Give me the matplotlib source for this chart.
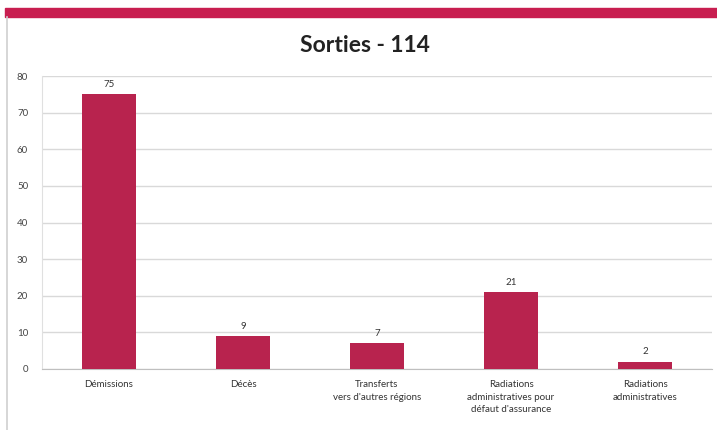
import matplotlib.pyplot as plt
from matplotlib.patches import Rectangle
from matplotlib.lines import Line2D

categories = ["Démissions", "Décès", "Transferts\nvers d'autres régions",
              "Radiations\nadministratives pour\ndéfaut d'assurance",
              "Radiations\nadministratives"]
values = [75, 9, 7, 21, 2]
yticks = [0, 10, 20, 30, 40, 50, 60, 70, 80]

bar_color = "#B8234E"
strip_color = "#C81E50"

plt.rcParams['font.family'] = ['Lato', 'DejaVu Sans']

W, H = 717, 430
fig = plt.figure(figsize=(W / 100, H / 100), dpi=100)

# red strip across the top and grey frame on the left
fig.patches.append(Rectangle((5 / W, 1 - 17 / H), 1, 9 / H, transform=fig.transFigure,
                             color=strip_color, zorder=0))
fig.lines.append(Line2D([7 / W, 7 / W], [0, 1 - 17 / H], transform=fig.transFigure,
                        color="#d0d0d0", lw=1.2))

ax = fig.add_axes([42 / W, 1 - 369 / H, 670 / W, 293 / H])
x = range(len(categories))
bars = ax.bar(x, values, width=0.4, color=bar_color, zorder=3)
for b, v in zip(bars, values):
    ax.text(b.get_x() + b.get_width() / 2, v + 1.5, str(v), ha="center", va="bottom",
            fontsize=7, color="#333333")

ax.set_xlim(-0.5, len(categories) - 0.5)
ax.set_ylim(0, 80)
ax.set_yticks(yticks)
ax.set_xticks(list(x))
ax.set_xticklabels(categories, fontsize=7, color="#333333", linespacing=1.5)
ax.tick_params(axis="y", labelsize=7, labelcolor="#444444", length=0, pad=10)
ax.tick_params(axis="x", length=0, pad=8)
ax.grid(axis="y", color="#d9d9d9", lw=1, zorder=0)
for s in ["top", "right"]:
    ax.spines[s].set_visible(False)
ax.spines["left"].set_color("#e0e0e0")
ax.spines["bottom"].set_color("#bfbfbf")

fig.text(365 / W, 1 - 45 / H, "Sorties - 114", ha="center", va="center",
         fontsize=16.5, fontweight="bold", color="#222222")

fig.savefig("out.png", dpi=100)
